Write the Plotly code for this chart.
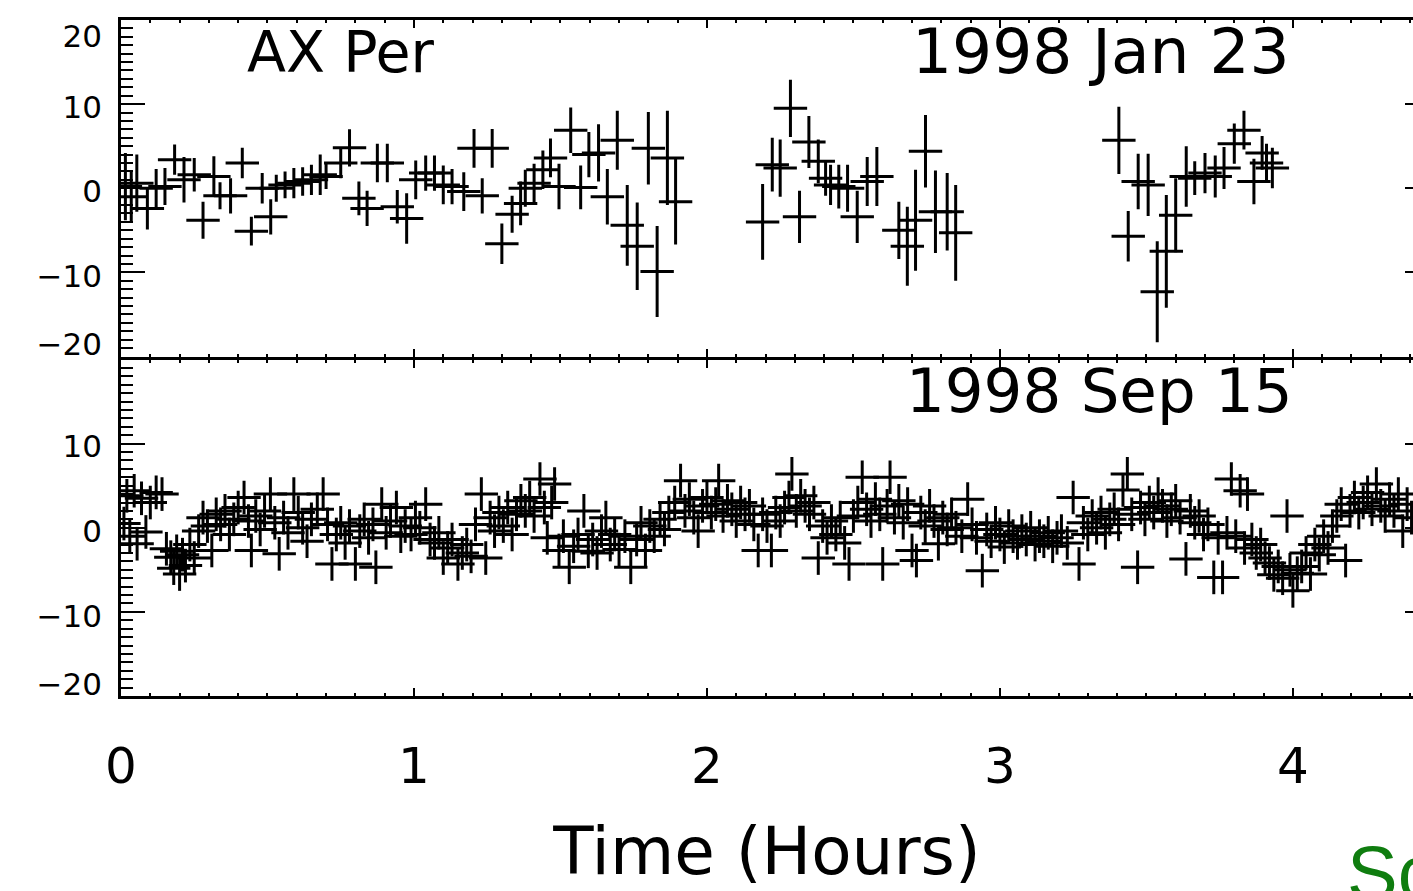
import plotly.graph_objects as go

# ---------------- data: top panel (1998 Jan 23) ----------------
jan_t = [0.015, 0.035, 0.054, 0.09, 0.12, 0.15, 0.183, 0.215, 0.25, 0.28,
         0.317, 0.338, 0.374, 0.414, 0.445, 0.482, 0.511, 0.53, 0.56, 0.59,
         0.62, 0.65, 0.68, 0.70, 0.75, 0.78, 0.812, 0.84, 0.875, 0.909,
         0.943, 0.975, 1.006, 1.04, 1.07, 1.10, 1.13, 1.17, 1.205, 1.233,
         1.267, 1.30, 1.335, 1.364, 1.38, 1.41, 1.44, 1.466, 1.495, 1.535,
         1.569, 1.597, 1.63, 1.66, 1.694, 1.728, 1.762, 1.80, 1.83, 1.865,
         1.893,
         2.19, 2.223, 2.25, 2.285, 2.316, 2.348, 2.38, 2.405, 2.422, 2.45,
         2.48, 2.513, 2.547, 2.58, 2.655, 2.684, 2.712, 2.746, 2.78, 2.82,
         2.849,
         3.406, 3.438, 3.472, 3.506, 3.537, 3.568, 3.60, 3.636, 3.665, 3.70,
         3.735, 3.765, 3.80, 3.833, 3.867, 3.895, 3.91, 3.93]
jan_v = [0.2, -1.0, 0.6, -2.4, 0.0, 0.2, 3.4, 1.0, 1.6, -3.8,
         1.4, -0.9, -0.9, 3.0, -5.1, 0.0, -3.4, 0.0, 0.4, 0.6,
         0.8, 1.0, 1.6, 1.4, 3.0, 4.8, -1.2, -2.4, 3.0, 3.0,
         -2.2, -3.6, 1.0, 1.8, 1.8, 0.4, 0.2, -0.4, 4.75, -0.9,
         4.75, -6.6, -3.1, -1.8, 0.0, 0.6, 2.2, 3.6, 0.2, 6.9,
         0.1, 4.0, 4.2, -1.0, 5.7, -4.4, -6.9, 4.75, -9.9, 3.6,
         -1.6,
         -4.0, 2.8, 2.4, 9.5, -3.4, 5.5, 3.2, 1.2, 0.4, 0.2,
         0.0, -3.4, 0.8, 1.4, -5.0, -6.9, -3.8, 4.4, -2.8, -2.8,
         -5.3,
         5.7, -5.7, 0.8, 0.4, -12.3, -7.5, -3.2, 1.4, 1.2, 1.8,
         1.4, 2.4, 5.3, 6.9, 0.8, 4.2, 3.0, 2.4]
jan_err = [4.0, 3.0, 3.4, 2.5, 2.3, 2.2, 1.8, 2.7, 2.0, 2.2,
           2.4, 1.6, 2.1, 1.8, 1.7, 1.8, 2.1, 1.6, 1.6, 1.8,
           1.7, 1.8, 2.4, 1.5, 1.8, 2.2, 2.0, 2.1, 2.3, 2.3,
           2.0, 3.0, 2.3, 2.1, 2.1, 2.3, 2.1, 2.3, 2.3, 2.1,
           2.3, 2.4, 2.2, 2.6, 2.2, 2.3, 2.3, 2.3, 2.7, 2.7,
           2.6, 2.7, 3.4, 3.3, 3.5, 4.8, 5.2, 4.3, 5.4, 5.6,
           5.1,
           4.5, 3.2, 3.4, 3.4, 3.1, 3.1, 2.6, 2.1, 2.4, 2.6,
           2.8, 3.1, 2.9, 3.5, 3.4, 4.7, 6.0, 4.3, 4.9, 4.6,
           5.7,
           4.0, 3.0, 3.3, 3.7, 6.0, 6.7, 4.4, 3.6, 2.0, 2.4,
           2.5, 2.5, 2.4, 2.3, 2.7, 2.0, 2.3, 2.4]

# ---------------- data: bottom panel (1998 Sep 15) ----------------
sep_t = [0.010, 0.020, 0.030, 0.045, 0.055, 0.070, 0.085, 0.100, 0.120, 0.140,
         0.155, 0.170, 0.180, 0.190, 0.200, 0.210, 0.220, 0.235, 0.250,
         0.265, 0.280, 0.295, 0.310, 0.325, 0.340, 0.355, 0.370, 0.385, 0.400,
         0.420, 0.435, 0.445, 0.460, 0.475, 0.490, 0.510, 0.525, 0.540, 0.555,
         0.570, 0.590, 0.605, 0.620, 0.635, 0.650, 0.670, 0.690, 0.705,
         0.720, 0.735, 0.750, 0.765, 0.780, 0.800, 0.815, 0.830, 0.845, 0.860,
         0.870, 0.890, 0.905, 0.920, 0.940, 0.955, 0.970, 0.990, 1.005, 1.020,
         1.040, 1.055,
         1.070, 1.085, 1.100, 1.115, 1.130, 1.150, 1.165, 1.180, 1.195,
         1.210, 1.230, 1.245, 1.260, 1.275, 1.290, 1.305, 1.320, 1.335,
         1.350, 1.365, 1.380, 1.395, 1.410, 1.430, 1.445, 1.455, 1.470, 1.480,
         1.495,
         1.510, 1.530, 1.545, 1.560, 1.580, 1.595, 1.610, 1.625,
         1.640, 1.655, 1.670, 1.685, 1.700, 1.720, 1.740,
         1.760, 1.775, 1.790, 1.805, 1.820, 1.840, 1.855,
         1.870, 1.890, 1.910, 1.925, 1.940, 1.955, 1.970, 1.985, 2.000, 2.015,
         2.030, 2.040, 2.055, 2.070, 2.085, 2.100, 2.115, 2.130, 2.145,
         2.160, 2.175, 2.190, 2.205, 2.220, 2.235, 2.250,
         2.265, 2.280, 2.290, 2.305, 2.320, 2.335, 2.350, 2.365,
         2.380, 2.395, 2.410, 2.425, 2.440, 2.455, 2.470, 2.485,
         2.500, 2.515, 2.530, 2.545, 2.560, 2.575, 2.590, 2.600, 2.615, 2.625,
         2.640, 2.655, 2.670, 2.685, 2.700, 2.715,
         2.730, 2.745, 2.760, 2.775, 2.790, 2.805, 2.820, 2.835, 2.850, 2.870,
         2.890,
         2.905, 2.920, 2.940, 2.955, 2.970, 2.985, 3.000, 3.015, 3.030, 3.045,
         3.060, 3.075, 3.090, 3.105, 3.120, 3.135, 3.150, 3.165, 3.180, 3.195,
         3.210, 3.230, 3.250, 3.270,
         3.285, 3.300, 3.315, 3.330, 3.345, 3.360, 3.375, 3.390, 3.405, 3.420,
         3.435, 3.450, 3.470,
         3.480, 3.495, 3.510, 3.525, 3.540, 3.555, 3.570, 3.585, 3.600, 3.615,
         3.635, 3.650, 3.665,
         3.680, 3.695, 3.710, 3.730, 3.745, 3.760, 3.775, 3.790,
         3.805, 3.820, 3.835, 3.845, 3.860, 3.875, 3.890, 3.905,
         3.920, 3.935, 3.950, 3.965, 3.980, 3.990, 4.000, 4.015,
         4.030, 4.045, 4.060, 4.075, 4.090, 4.105, 4.120, 4.135,
         4.150, 4.165, 4.180, 4.195, 4.210, 4.225, 4.240,
         4.255, 4.270, 4.285, 4.300, 4.315, 4.330, 4.345, 4.360, 4.375, 4.390,
         4.405]
sep_v = [0.5, 3.8, -1.0, 4.4, -1.9, 3.5, -0.5, 3.0, 4.2, 4.0,
         -2.5, -3.5, -4.8, -2.8, -5.5, -3.2, -4.5, -2.0, -3.6,
         -0.4, 1.2, 0.2, -2.7, 1.6, 0.4, 2.0, -0.8, 1.0, 2.4,
         3.6, 0.8, -2.7, 1.4, -0.2, 2.0, 4.0, 0.6, -3.1, 1.2,
         -0.6, 4.0, 1.8, 0.0, -1.6, 1.0, 2.2, 4.0, 0.4,
         -4.3, -0.8, 0.6, -1.8, 0.2, -4.3, -0.4, 1.0, -1.2, 0.4,
         -4.7, 2.8, -0.6, 0.8, 2.4, -1.0, 0.2, -0.8, 1.2, 0.0,
         2.8, -1.4,
         -1.8, -0.6, -3.6, -2.4, -1.4, -4.3, -3.0, -2.0, -3.4,
         0.4, 4.0, -3.6, 1.2, -0.4, 1.8, 0.2, 2.4, -0.8,
         1.6, 3.2, 2.0, 3.6, 1.4, 5.8, 2.4, -1.2, 3.0, 5.2,
         -2.7,
         -1.0, -4.7, -2.2, -0.8, 2.0, -2.8, -1.4, -3.0,
         -0.4, 1.2, -2.0, -0.8, -2.6, -1.0, -4.7,
         -1.4, 0.6, -2.7, 0.2, -1.0, 1.0, -0.2,
         1.8, 3.0, 5.6, 2.0, 3.4, 1.2, -0.4, 2.6, 3.6, 1.8,
         2.8, 5.6, 1.4, 3.2, 2.2, 0.8, 3.0, 1.6, 2.6,
         0.4, -2.7, 1.6, 0.2, -2.7, 1.8, 0.8,
         2.4, 3.6, 6.4, 2.0, 3.8, 2.6, 1.6, 3.0,
         -3.6, 0.2, -1.2, 0.8, -0.8, 1.2, -1.8, -4.3,
         1.4, 3.0, 6.0, 2.2, 0.8, 3.4, 1.6, -4.3, 2.6, 6.0,
         1.2, 3.2, 0.6, 2.8, -2.7, -3.9,
         1.8, 0.2, 2.6, 0.8, -1.9, 1.2, -0.2, 1.6, 0.0, -1.0,
         3.4,
         0.4, -1.2, -5.1, -0.2, -1.6, 0.6, -0.8, -2.3, 0.2, -1.0,
         -1.8, -0.4, -1.4, 0.0, -2.0, -1.0, -1.6, -0.6, -2.2, -1.2,
         -0.4, -1.8, 3.6, -4.3,
         0.6, -0.8, 1.4, 0.0, 1.8, -0.6, 1.0, 2.2, 0.4, 4.5,
         6.4, 1.6, -4.7,
         2.4, 1.0, 3.0, 1.8, 4.0, 2.6, 0.8, 2.2, 3.2, 1.2,
         -3.7, 2.0, 0.6,
         1.4, -0.8, 0.4, -5.9, -1.2, -5.9, -0.6, 5.8,
         -1.0, 4.4, -2.4, 4.0, -1.4, -3.0, -2.0, -3.6,
         -4.2, -5.6, -4.6, -6.0, 1.4, -5.0, -7.5, -5.4,
         -4.6, -3.0, -5.5, -2.0, -3.2, -1.0, -2.4, 0.2,
         1.4, 2.8, -3.9, 2.0, 3.6, 1.8, 3.0,
         4.2, 2.2, 5.2, 2.6, 1.4, 3.4, 2.0, 4.0, -0.4, 2.8,
         1.2]
sep_err = 2.0          # typical half-length of the vertical bars
bin_half = 0.057       # half-width of the horizontal bars (hours)

x_ticks = [0, 1, 2, 3, 4]
y_ticks = [-20, -10, 0, 10, 20]
top_label_pos = [18.1, 9.6, -0.35, -10.4, -18.5]
top_label_txt = ["20", "10", "0", "\u221210", "\u221220"]
bot_label_pos = [9.65, -0.35, -10.5, -18.6]
bot_label_txt = ["10", "0", "\u221210", "\u221220"]

FONT = "DejaVu Sans"
INK = "black"
SPLIT = 0.5
HALF_LINE = 1.5 / 676.0   # lets the two 3px boundary lines coincide

fig = go.Figure()

fig.add_trace(go.Scatter(
    x=jan_t, y=jan_v, mode="markers", xaxis="x", yaxis="y",
    marker=dict(size=2, color=INK),
    error_x=dict(type="constant", value=bin_half, thickness=3, width=0, color=INK),
    error_y=dict(type="data", array=jan_err, thickness=3, width=0, color=INK),
    showlegend=False, hoverinfo="x+y"))

fig.add_trace(go.Scatter(
    x=sep_t, y=sep_v, mode="markers", xaxis="x2", yaxis="y2",
    marker=dict(size=2, color=INK),
    error_x=dict(type="constant", value=bin_half, thickness=3, width=0, color=INK),
    error_y=dict(type="constant", value=sep_err, thickness=3, width=0, color=INK),
    showlegend=False, hoverinfo="x+y"))

# empty traces so the overlay axes (labels / right stubs) get drawn
for ya, xa in [("y3", "x"), ("y4", "x2"), ("y5", "x"), ("y6", "x2")]:
    fig.add_trace(go.Scatter(x=[], y=[], xaxis=xa, yaxis=ya,
                             showlegend=False, hoverinfo="skip"))

XR = [0, 4.41]
common_x = dict(range=XR, showline=True, linewidth=3, linecolor=INK,
                mirror="ticks", ticks="inside", ticklen=8, tickwidth=2,
                tickcolor=INK, tickvals=x_ticks, showgrid=False, zeroline=False,
                minor=dict(dtick=0.1, tick0=0, ticks="inside", ticklen=3,
                           tickwidth=1.5, tickcolor=INK))
common_y = dict(range=[-20, 20], showline=True, linewidth=3, linecolor=INK,
                ticks="inside", ticklen=24, tickwidth=2, tickcolor=INK,
                tickvals=y_ticks, showticklabels=False, showgrid=False,
                zeroline=False,
                minor=dict(dtick=1, tick0=0, ticks="inside", ticklen=12,
                           tickwidth=2, tickcolor=INK))
label_y = dict(range=[-20, 20], showline=False, ticks="", showgrid=False,
               zeroline=False, side="left", ticklabelstandoff=18,
               tickfont=dict(family=FONT, size=31, color=INK))
stub_y = dict(range=[-20, 20], showline=False, ticks="inside", ticklen=8,
              tickwidth=2, tickcolor=INK, tickvals=[-10, 0, 10],
              showticklabels=False, showgrid=False, zeroline=False,
              side="right")

top_dom = [SPLIT + HALF_LINE, 1]
bot_dom = [0, SPLIT - HALF_LINE]

fig.update_layout(
    width=1413, height=891,
    margin=dict(l=121, r=0, t=20, b=195),
    paper_bgcolor="white", plot_bgcolor="white",
    font=dict(family=FONT, color=INK),
    xaxis=dict(common_x, anchor="y", showticklabels=False),
    xaxis2=dict(common_x, anchor="y2", matches="x", showticklabels=True,
                tickfont=dict(family=FONT, size=50, color=INK),
                ticklabelstandoff=24,
                title=dict(text="Time (Hours)", standoff=34,
                           font=dict(family=FONT, size=66, color=INK))),
    yaxis=dict(common_y, domain=top_dom, anchor="x"),
    yaxis2=dict(common_y, domain=bot_dom, anchor="x2"),
    yaxis3=dict(label_y, overlaying="y", anchor="x",
                tickvals=top_label_pos, ticktext=top_label_txt),
    yaxis4=dict(label_y, overlaying="y2", anchor="x2",
                tickvals=bot_label_pos, ticktext=bot_label_txt),
    yaxis5=dict(stub_y, overlaying="y", anchor="x"),
    yaxis6=dict(stub_y, overlaying="y2", anchor="x2"),
)

fig.add_annotation(text="AX Per", xref="paper", yref="paper", x=0.096, y=0.953,
                   xanchor="left", yanchor="middle", showarrow=False,
                   font=dict(family=FONT, size=57, color=INK))
fig.add_annotation(text="1998 Jan 23", xref="paper", yref="paper", x=0.906, y=0.953,
                   xanchor="right", yanchor="middle", showarrow=False,
                   font=dict(family=FONT, size=63, color=INK))
fig.add_annotation(text="1998 Sep 15", xref="paper", yref="paper", x=0.909, y=0.452,
                   xanchor="right", yanchor="middle", showarrow=False,
                   font=dict(family=FONT, size=61, color=INK))
fig.add_annotation(text="Sc", xref="paper", yref="paper", x=0.947, y=-0.195,
                   xanchor="left", yanchor="top", showarrow=False,
                   font=dict(family="Liberation Sans", size=76, color="#0f7d0f"))

fig.write_html("out.html")
